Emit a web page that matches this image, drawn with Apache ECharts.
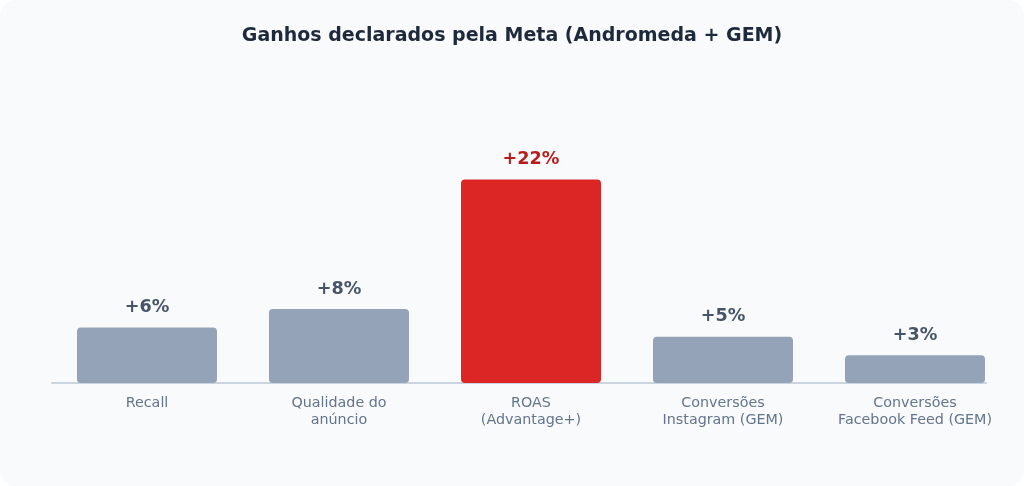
<!DOCTYPE html>
<html>
<head>
<meta charset="utf-8">
<script src="https://cdn.jsdelivr.net/npm/echarts@6/dist/echarts.min.js"></script>
<style>
	html, body { margin: 0; padding: 0; background: #ffffff; }
	#box { width: 1024px; height: 486px; background: #f8fafc; border-radius: 16px; }
</style>
</head>
<body>
<div id="box"></div>
<script>
// dados do gráfico
var categorias = ['Recall', 'Qualidade do\nanúncio', 'ROAS\n(Advantage+)', 'Conversões\nInstagram (GEM)', 'Conversões\nFacebook Feed (GEM)'];
var ganhos = [6, 8, 22, 5, 3];
var destaque = 2; // índice da barra em vermelho

var chart = echarts.init(document.getElementById('box'));

var dados = ganhos.map(function(v, i) {
	var hi = i === destaque;
	return {
		value: v,
		itemStyle: { color: hi ? '#dc2626' : '#94a3b8' },
		label: { color: hi ? '#b91c1c' : '#475569' }
	};
});

var option = {
	backgroundColor: 'transparent',
	title: {
		text: 'Ganhos declarados pela Meta (Andromeda + GEM)',
		left: 'center',
		top: 22,
		textStyle: { fontFamily: 'DejaVu Sans', fontSize: 19, fontWeight: 'bold', color: '#1e293b' }
	},
	grid: [
		{ left: 51, right: 13, top: 105.5, bottom: 103 },
		// só para a linha do eixo, que termina antes
		{ left: 52, right: 38, top: 105.5, bottom: 103 }
	],
	xAxis: [{
		type: 'category',
		gridIndex: 0,
		data: categorias,
		axisLine: { show: false },
		axisTick: { show: false },
		axisLabel: {
			fontFamily: 'DejaVu Sans', fontSize: 14.3, color: '#64748b',
			lineHeight: 17, margin: 12, interval: 0
		}
	}, {
		type: 'category',
		gridIndex: 1,
		data: categorias,
		axisLine: { lineStyle: { color: '#cbd5e1', width: 2 } },
		axisTick: { show: false },
		axisLabel: { show: false }
	}],
	yAxis: [{
		type: 'value',
		gridIndex: 0,
		min: 0,
		max: 30,
		show: false
	}, {
		type: 'value',
		gridIndex: 1,
		min: 0,
		max: 30,
		show: false
	}],
	series: [{
		type: 'bar',
		xAxisIndex: 0,
		yAxisIndex: 0,
		data: dados,
		barWidth: 140,
		z: 3,
		itemStyle: { borderRadius: 4 },
		label: {
			show: true,
			position: 'top',
			distance: 11,
			fontFamily: 'DejaVu Sans',
			fontSize: 17.6,
			fontWeight: 'bold',
			formatter: function(p) { return '+' + p.value + '%'; }
		}
	}]
};

chart.setOption(option);
</script>
</body>
</html>
